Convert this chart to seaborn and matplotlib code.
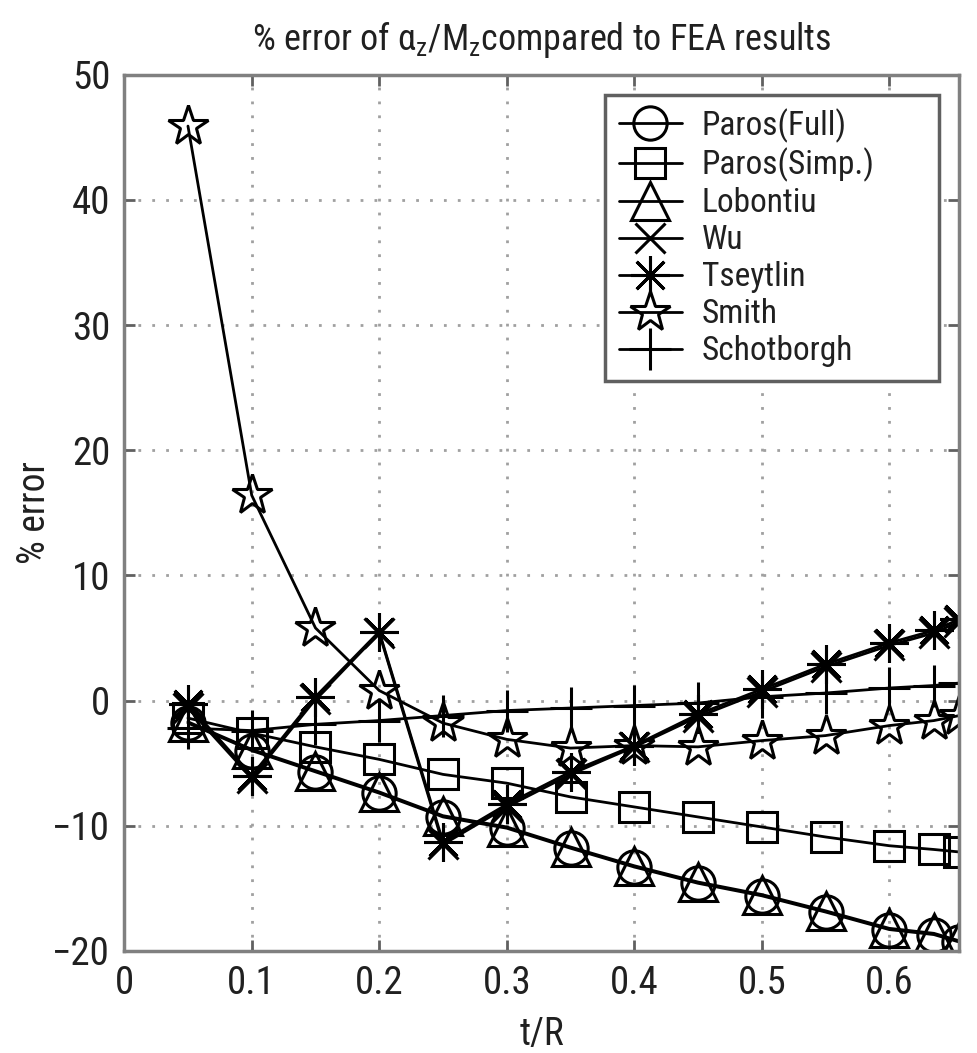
import matplotlib
matplotlib.use("Agg")
import matplotlib.pyplot as plt
from matplotlib import font_manager
import seaborn as sns

# ---- data ----
tR = [0.05, 0.10, 0.15, 0.20, 0.25, 0.30, 0.35, 0.40, 0.45, 0.50, 0.55, 0.60, 0.635, 0.655]

paros_full = [-1.8, -4.0, -5.7, -7.4, -9.3, -10.2, -11.8, -13.3, -14.6, -15.6, -16.9, -18.3, -18.7, -19.3]
paros_simp = [-1.4, -2.6, -3.7, -4.7, -5.9, -6.6, -7.7, -8.5, -9.3, -10.1, -10.9, -11.6, -11.9, -12.1]
lobontiu = [-1.7, -3.9, -5.6, -7.3, -9.2, -10.1, -11.7, -13.2, -14.5, -15.5, -16.8, -18.2, -18.6, -19.2]
wu = [-0.6, -6.2, 0.1, 5.4, -11.5, -8.5, -5.9, -3.7, -1.3, 0.7, 2.7, 4.4, 5.4, 6.3]
tseytlin = [-0.3, -6.0, 0.3, 5.5, -11.3, -8.3, -5.7, -3.6, -1.1, 0.9, 2.9, 4.6, 5.6, 6.5]
smith = [45.9, 16.4, 5.8, 0.8, -1.8, -3.1, -3.8, -3.6, -3.7, -3.2, -2.8, -2.0, -1.6, -1.2]
schotborgh = [-2.2, -2.4, -1.9, -1.6, -1.2, -0.8, -0.6, -0.4, -0.2, 0.3, 0.6, 1.0, 1.2, 1.4]

labels = ["Paros(Full)", "Paros(Simp.)", "Lobontiu", "Wu", "Tseytlin", "Smith", "Schotborgh"]
series = [paros_full, paros_simp, lobontiu, wu, tseytlin, smith, schotborgh]
markers = ["o", "s", "^", "x", (8, 2, 0), "*", "+"]
msizes = [24, 21, 28, 22, 28, 30, 30]

xticks = [0, 0.1, 0.2, 0.3, 0.4, 0.5, 0.6]
yticks = [-20, -10, 0, 10, 20, 30, 40, 50]

# ---- style ----
sns.set_theme(style="white")
names = {f.name for f in font_manager.fontManager.ttflist}
narrow = None
for cand in ["Liberation Sans Narrow", "Arial Narrow", "Roboto Condensed",
             "Open Sans Condensed", "DejaVu Sans Condensed", "Noto Sans Condensed"]:
    if cand in names:
        narrow = cand
        break
if narrow is not None:
    fam = narrow
    scale = 1.0
else:
    fam = "Liberation Sans"
    scale = 0.86
plt.rcParams["font.family"] = [fam, "DejaVu Sans"]
plt.rcParams["mathtext.default"] = "regular"

txt = "#202020"
fig = plt.figure(figsize=(9.78, 10.53), dpi=100)
ax = fig.add_axes([0.127, 0.097, 0.854, 0.832])

for lab, vals, m, ms in zip(labels, series, markers, msizes):
    sns.lineplot(x=tR, y=vals, ax=ax, color="black", marker=m, markersize=ms,
                 markerfacecolor="none", markeredgecolor="black", markeredgewidth=2.2,
                 linewidth=2.0, label=lab, estimator=None, sort=False)

ax.set_xlim(0, 0.655)
ax.set_ylim(-20, 50)
ax.set_xticks(xticks)
ax.set_xticklabels(["0", "0.1", "0.2", "0.3", "0.4", "0.5", "0.6"])
ax.set_yticks(yticks)
ax.set_yticklabels([f"{v:d}".replace("-", "\u2212") for v in yticks])

ax.grid(True, linestyle=(0, (1, 4)), color="#a0a0a0", linewidth=2.0)
for s in ax.spines.values():
    s.set_visible(True)
    s.set_color("#808080")
    s.set_linewidth(2.5)
ax.tick_params(axis="both", direction="in", length=8, width=2, color="#606060",
               labelsize=28 * scale, labelcolor=txt, pad=10, top=True, right=True,
               bottom=True, left=True)

ax.set_xlabel("t/R", fontsize=27 * scale, color=txt, labelpad=10)
ax.set_ylabel("% error", fontsize=27 * scale, color=txt, va="center")
ax.yaxis.set_label_coords(-0.107, 0.5)
ax.set_title("% error of \u03b1$_z$/M$_z$compared to FEA results", fontsize=26 * scale,
             color=txt, pad=18)

leg = ax.legend(loc="upper left", bbox_to_anchor=(0.576, 0.646, 0.399, 0.331),
                mode="expand", borderaxespad=0, fancybox=False, framealpha=1,
                edgecolor="#606060", fontsize=24 * scale, handlelength=1.9,
                handletextpad=0.6, borderpad=0.4, labelspacing=0.15, numpoints=1)
leg.get_frame().set_linewidth(2.5)
for t in leg.get_texts():
    t.set_color(txt)

fig.savefig("out.png", dpi=100)
